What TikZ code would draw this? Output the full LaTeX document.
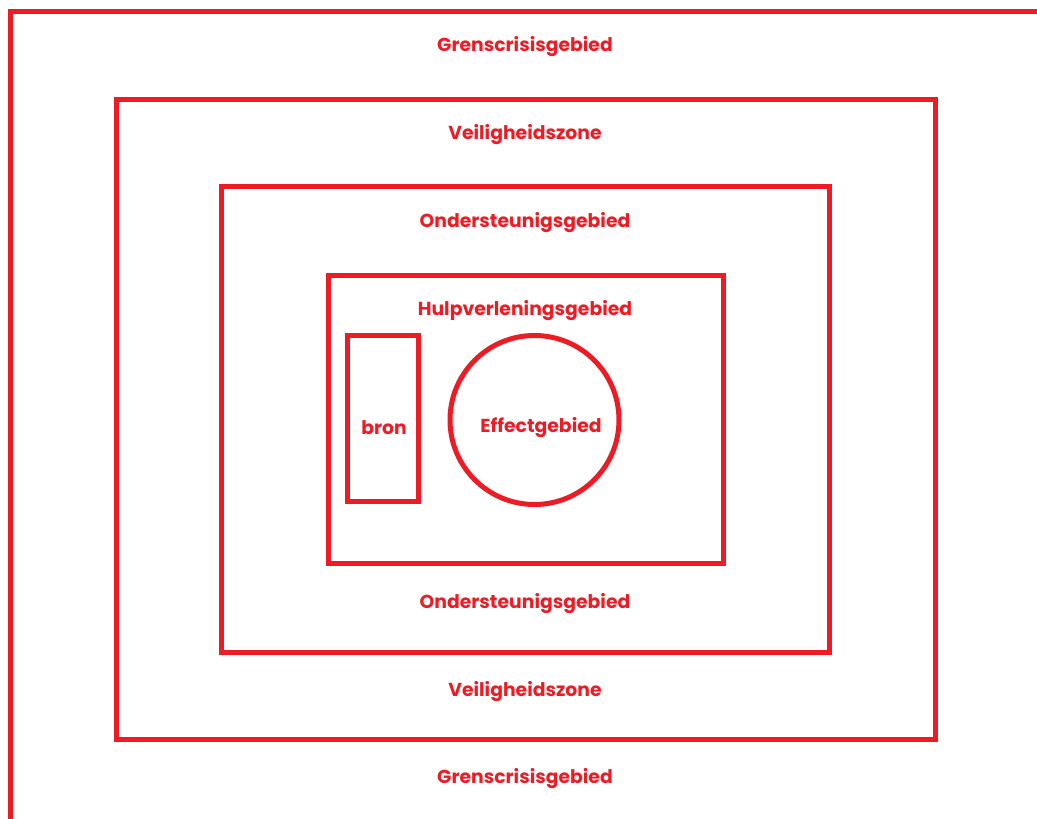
\documentclass[tikz,border=0pt]{standalone}
\usepackage{fontspec}
\setmainfont{Poppins}
\definecolor{zred}{HTML}{ED1C24}
\begin{document}
\begin{tikzpicture}[x=1pt,y=-1pt,
  zone/.style={draw=zred,line width=5pt,inner sep=0pt,rectangle},
  lab/.style={text=zred,font=\fontsize{18.8}{20}\selectfont\bfseries,inner sep=0pt}]
\useasboundingbox (0,0) rectangle (1037,819);
\coordinate (ob) at (10.5,819);
\coordinate (oc) at (10.5,11);
\coordinate (or) at (1037,11);
\draw[zred,line width=5pt] (ob) -- (oc) -- (or);
\node[zone,minimum width=818.5pt,minimum height=640pt] (vz) at (525.75,419.5) {};
\node[zone,minimum width=607.5pt,minimum height=465.5pt] (og) at (525.25,419.25) {};
\node[zone,minimum width=395pt,minimum height=288pt] (hg) at (525.75,419.25) {};
\node[zone,minimum width=71pt,minimum height=166pt] (bron) at (382.5,418) {};
\node[draw=zred,line width=5pt,circle,inner sep=0pt,minimum size=169pt] (eg) at (534.5,420) {};
\node[lab] (t1) at (525,47) {Grenscrisisgebied};
\node[lab] (t2) at (525,779) {Grenscrisisgebied};
\node[lab] (t3) at (525,135) {Veiligheidszone};
\node[lab] (t4) at (525,692) {Veiligheidszone};
\node[lab] (t5) at (525,223) {Ondersteunigsgebied};
\node[lab] (t6) at (525,604) {Ondersteunigsgebied};
\node[lab] (t7) at (525,311) {Hulpverleningsgebied};
\node[lab] (t8) at (384,428) {bron};
\node[lab] (t9) at (541,428) {Effectgebied};
\end{tikzpicture}
\end{document}
